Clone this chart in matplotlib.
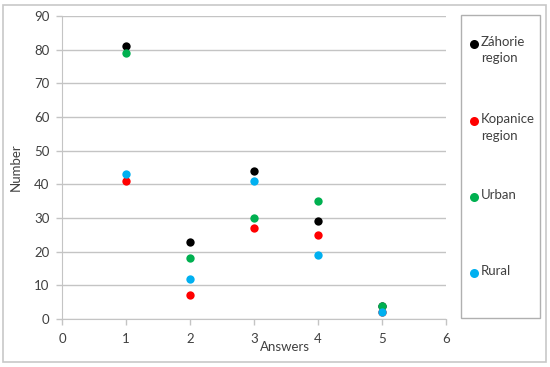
import matplotlib
matplotlib.use("Agg")
import matplotlib.pyplot as plt
from matplotlib.lines import Line2D
from matplotlib.patches import Rectangle

answers = [1, 2, 3, 4, 5]
zahorie = [81, 23, 44, 29, 4]
kopanice = [41, 7, 27, 25, 2]
urban = [79, 18, 30, 35, 4]
rural = [43, 12, 41, 19, 2]
series_names = ["Záhorie\nregion", "Kopanice\nregion", "Urban", "Rural"]
colors = ["#000000", "#FF0000", "#00B050", "#00B0F0"]

plt.rcParams['font.family'] = ['Lato', 'DejaVu Sans']

fig = plt.figure(figsize=(5.5, 3.67), dpi=100)
W, H = 550, 367
fs = 9.5

# outer border
fig.patches.append(Rectangle((3 / W, 1 - 362 / H), 543 / W, 357 / H, transform=fig.transFigure,
                             fill=False, edgecolor="#c8c8c8", lw=1.2))

ax = fig.add_axes([62 / W, 1 - 319 / H, (446 - 62) / W, (319 - 16) / H])
for vals, c in zip([zahorie, kopanice, urban, rural], colors):
    ax.scatter(answers, vals, s=36, color=c, zorder=3, linewidths=0)

ax.set_xlim(0, 6)
ax.set_ylim(0, 90)
ax.set_xticks(range(0, 7))
ax.set_yticks(range(0, 91, 10))
ax.yaxis.grid(True, color="#c4c4c4", lw=1)
ax.set_axisbelow(True)
for s in ["top", "right"]:
    ax.spines[s].set_visible(False)
for s in ["left", "bottom"]:
    ax.spines[s].set_color("#c4c4c4")
ax.tick_params(axis="both", colors="#c4c4c4", labelcolor="#404040", labelsize=fs, length=4, width=1)
ax.tick_params(axis="x", pad=6)
ax.tick_params(axis="y", pad=5)
ax.set_ylabel("Number", fontsize=fs, color="#404040", labelpad=9)
ax.text(285 / W, 1 - 347 / H, "Answers", transform=fig.transFigure, fontsize=fs,
        color="#404040", ha="center", va="center")

# legend box
fig.patches.append(Rectangle((461 / W, 1 - 318 / H), (540 - 461) / W, (318 - 15) / H,
                             transform=fig.transFigure, fill=False, edgecolor="#b0b0b0", lw=1))
leg_y = [44, 121, 197, 273]
for name, c, y in zip(series_names, colors, leg_y):
    fig.lines.append(Line2D([474 / W], [1 - y / H], marker="o", markersize=6.5, color=c,
                            markeredgewidth=0, transform=fig.transFigure))
    fig.text(481 / W, 1 - (y - 8) / H, name, fontsize=fs, color="#404040",
             ha="left", va="top", linespacing=1.45)

fig.savefig("out.png", dpi=100)
